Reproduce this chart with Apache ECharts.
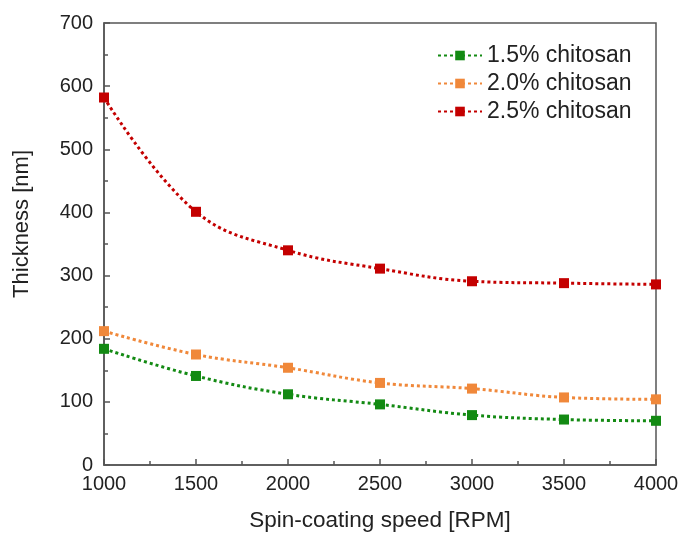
<!DOCTYPE html>
<html>
<head>
<meta charset="utf-8">
<script src="https://cdn.jsdelivr.net/npm/echarts@6/dist/echarts.min.js"></script>
<style>html,body{margin:0;padding:0;background:#fff}#c{width:682px;height:537px}</style>
</head>
<body>
<div id="c"></div>
<script>
const speeds = [1000, 1500, 2000, 2500, 3000, 3500, 4000];
const seriesNames = ['1.5% chitosan', '2.0% chitosan', '2.5% chitosan'];
const chitosan15 = [184, 141, 112, 96, 79, 72, 70];
const chitosan20 = [212, 175, 154, 130, 121, 107, 104];
const chitosan25 = [582, 401, 340, 311, 291, 288, 286];
const colors = ['#138a13', '#f0883a', '#c40000'];
const xTitle = 'Spin-coating speed [RPM]';
const yTitle = 'Thickness [nm]';

const values = [chitosan15, chitosan20, chitosan25];
const font = 'Liberation Sans, Arial, sans-serif';
const chart = echarts.init(document.getElementById('c'), null, {renderer: 'canvas'});
chart.setOption({
  animation: false,
  backgroundColor: '#fff',
  grid: {left: 104, top: 23, right: 26, bottom: 69, show: true, borderColor: '#555', borderWidth: 1.5, backgroundColor: 'transparent'},
  legend: {
    left: 432, top: 39, orient: 'vertical',
    itemWidth: 44, itemHeight: 12, itemGap: 5,
    textStyle: {fontFamily: font, fontSize: 23, color: '#222', lineHeight: 22},
    data: seriesNames
  },
  graphic: [{
    type: 'text', left: 11, top: 150, rotation: Math.PI / 2,
    style: {text: yTitle, fontFamily: font, fontSize: 22, fill: '#222'}
  }],
  xAxis: {
    type: 'value', min: 1000, max: 4000, interval: 500,
    name: xTitle, nameLocation: 'middle', nameGap: 44,
    nameTextStyle: {fontFamily: font, fontSize: 22.5, color: '#222'},
    axisLine: {lineStyle: {color: '#555', width: 1.5}},
    axisTick: {inside: true, length: 6, lineStyle: {color: '#555', width: 1.5}},
    minorTick: {show: true, splitNumber: 2, length: 4, lineStyle: {color: '#555', width: 1.5}},
    axisLabel: {fontFamily: font, fontSize: 20, color: '#222', margin: 9, formatter: v => String(v)},
    splitLine: {show: false}
  },
  yAxis: {
    type: 'value', min: 0, max: 700, interval: 100,
    axisLine: {show: true, lineStyle: {color: '#555', width: 1.5}},
    axisTick: {show: true, inside: true, length: 6, lineStyle: {color: '#555', width: 1.5}},
    minorTick: {show: true, splitNumber: 2, length: 4, lineStyle: {color: '#555', width: 1.5}},
    axisLabel: {fontFamily: font, fontSize: 20, color: '#222', margin: 11},
    splitLine: {show: false}
  },
  series: seriesNames.map((n, i) => ({
    name: n, type: 'line', smooth: 0.4,
    data: speeds.map((s, j) => [s, values[i][j]]),
    symbol: 'rect', symbolSize: 10,
    itemStyle: {color: colors[i]},
    lineStyle: {color: colors[i], width: 3, type: [3, 3]},
    clip: false
  }))
});
</script>
</body>
</html>
